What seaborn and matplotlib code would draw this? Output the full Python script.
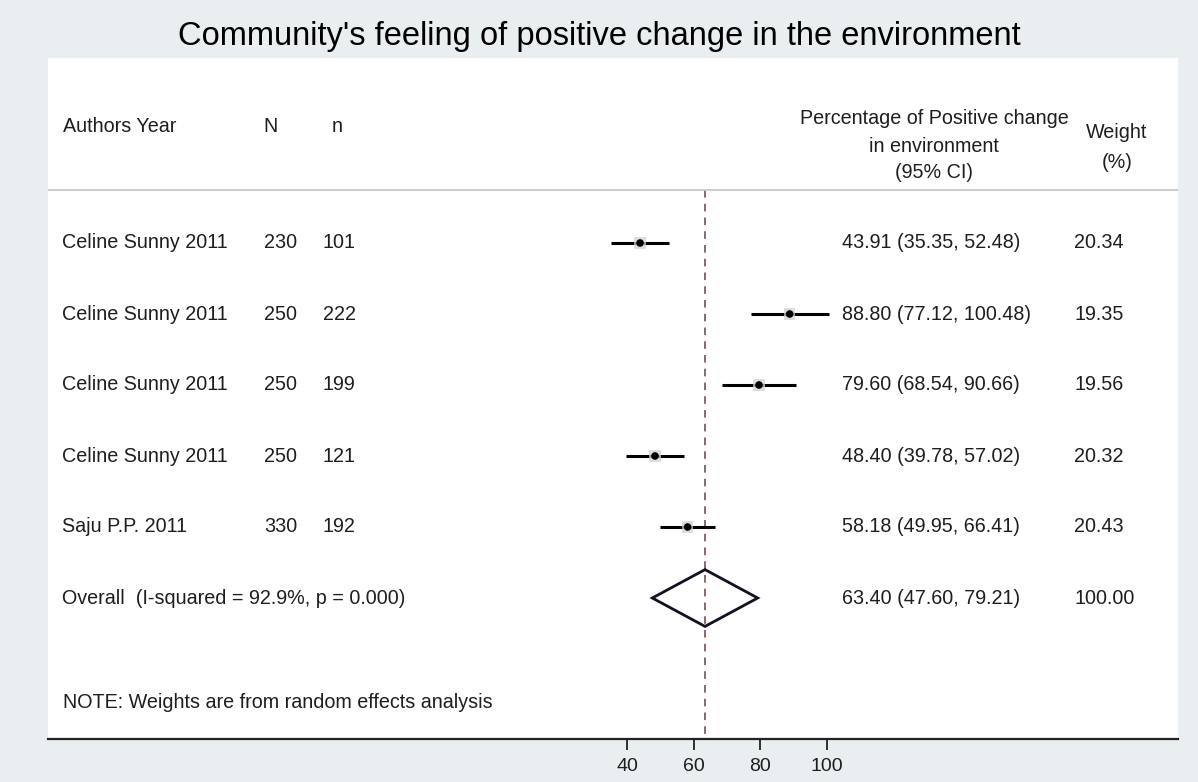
import matplotlib
matplotlib.use("Agg")
import matplotlib.pyplot as plt
import matplotlib.transforms as mtransforms
from matplotlib.patches import Polygon
import seaborn as sns
import pandas as pd

# Study-level data
studies = ["Celine Sunny 2011", "Celine Sunny 2011", "Celine Sunny 2011",
           "Celine Sunny 2011", "Saju P.P. 2011"]
big_n = [230, 250, 250, 250, 330]
small_n = [101, 222, 199, 121, 192]
estimate = [43.91, 88.80, 79.60, 48.40, 58.18]
ci_low = [35.35, 77.12, 68.54, 39.78, 49.95]
ci_high = [52.48, 100.48, 90.66, 57.02, 66.41]
weight = [20.34, 19.35, 19.56, 20.32, 20.43]

# Pooled random-effects estimate
overall_label = "Overall  (I-squared = 92.9%, p = 0.000)"
overall_est = 63.40
overall_low = 47.60
overall_high = 79.21
overall_weight = 100.00

x_ticks = [40, 60, 80, 100]
title = "Community's feeling of positive change in the environment"
note = "NOTE: Weights are from random effects analysis"

df = pd.DataFrame({"study": studies, "row": range(len(studies)),
                   "est": estimate, "lo": ci_low, "hi": ci_high})

sns.set_theme(style="white")
plt.rcParams["font.family"] = ["Liberation Sans", "DejaVu Sans"]

W, H = 1198, 782
fig = plt.figure(figsize=(W / 100, H / 100), dpi=100, facecolor="#e9eef1")

# White plotting panel: pixel box 48..1178 (x), 58..739 (y)
ax = fig.add_axes([48 / W, (H - 739) / H, 1130 / W, 681 / H])
ax.set_facecolor("white")

# x scale: 40 at px 627, 20 units per 66.67 px
ppu = 66.67 / 20
ax.set_xlim(40 + (48 - 627) / ppu, 40 + (1178 - 627) / ppu)
# y scale: row 0 at px 243, 71 px per row
row0, step = 243, 71
def ypx(p):
    return (p - row0) / step
ax.set_ylim(ypx(739), ypx(58))

text_color = "#1e1e1e"
fs = 14.2

# Reference line at pooled estimate
sep_y = ypx(190)
ax.vlines(overall_est, sep_y, ypx(739), colors="#6e4040", linewidth=1.1,
          linestyles=(0, (5, 4)), zorder=1)

# Confidence intervals
ax.hlines(df["row"], df["lo"], df["hi"], colors="black", linewidth=2.2, zorder=2)
# Weight boxes and point estimates
sns.scatterplot(data=df, x="est", y="row", marker="s", s=70, color="#d2d2d2",
                edgecolor="none", alpha=0.75, ax=ax, zorder=3, legend=False)
sns.scatterplot(data=df, x="est", y="row", marker="o", s=30, color="black",
                edgecolor="none", ax=ax, zorder=4, legend=False)

# Pooled diamond
orow = len(studies)
dh = 0.40
diamond = Polygon([[overall_low, orow], [overall_est, orow - dh],
                   [overall_high, orow], [overall_est, orow + dh]],
                  closed=True, fill=False, edgecolor="#111122", linewidth=2.0,
                  zorder=5)
ax.add_patch(diamond)

# Header separator
ax.axhline(sep_y, color="#c8c8c8", linewidth=1.3, zorder=1)

# Axis styling
for side in ["top", "left", "right"]:
    ax.spines[side].set_visible(False)
ax.spines["bottom"].set_color("#222222")
ax.spines["bottom"].set_linewidth(1.6)
ax.set_xticks(x_ticks)
ax.set_xticklabels([str(t) for t in x_ticks])
ax.set_yticks([])
ax.tick_params(axis="x", which="major", bottom=True, direction="out",
               length=8, width=1.3, color="#222222", labelsize=14,
               labelcolor=text_color, pad=6)
ax.set_xlabel("")
ax.set_ylabel("")

# Table text: x in pixels, y in data rows
trans = mtransforms.blended_transform_factory(ax.transAxes, ax.transData)
def xfrac(px):
    return (px - 48) / 1130

kw = dict(transform=trans, fontsize=fs, color=text_color, va="center")

# Column headers
ax.text(xfrac(63), ypx(127), "Authors Year", ha="left", **kw)
ax.text(xfrac(263), ypx(127), "N", ha="left", **kw)
ax.text(xfrac(332), ypx(127), "n", ha="left", **kw)
ax.text(xfrac(934), ypx(118), "Percentage of Positive change", ha="center", **kw)
ax.text(xfrac(934), ypx(147), "in environment", ha="center", **kw)
ax.text(xfrac(934), ypx(173), "(95% CI)", ha="center", **kw)
ax.text(xfrac(1117), ypx(133), "Weight", ha="center", **kw)
ax.text(xfrac(1117), ypx(162), "(%)", ha="center", **kw)

# Study rows
for i, name in enumerate(studies):
    ax.text(xfrac(62), i, name, ha="left", **kw)
    ax.text(xfrac(264), i, str(big_n[i]), ha="left", **kw)
    ax.text(xfrac(323), i, str(small_n[i]), ha="left", **kw)
    ax.text(xfrac(842), i, f"{estimate[i]:.2f} ({ci_low[i]:.2f}, {ci_high[i]:.2f})",
            ha="left", **kw)
    ax.text(xfrac(1074), i, f"{weight[i]:.2f}", ha="left", **kw)

# Pooled row
ax.text(xfrac(62), orow, overall_label, ha="left", **kw)
ax.text(xfrac(842), orow, f"{overall_est:.2f} ({overall_low:.2f}, {overall_high:.2f})",
        ha="left", **kw)
ax.text(xfrac(1074), orow, f"{overall_weight:.2f}", ha="left", **kw)

# Footnote
ax.text(xfrac(63), ypx(703), note, ha="left", **kw)

# Title
fig.text(0.5, 1 - 36 / H, title, ha="center", va="center", fontsize=23.5,
         color="black")

fig.savefig("out.png", dpi=100, facecolor=fig.get_facecolor())
